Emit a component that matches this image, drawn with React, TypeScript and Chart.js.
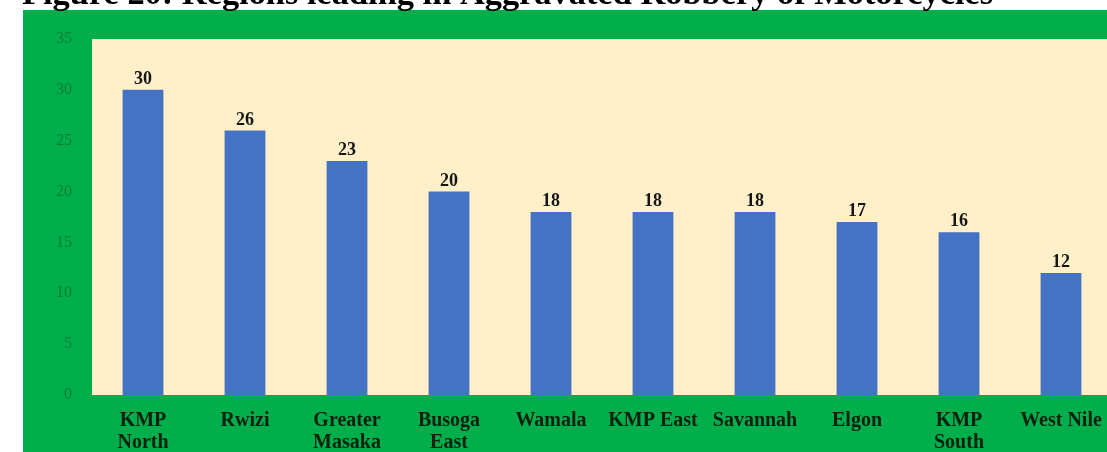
import React, { useEffect, useRef } from "react";
import { Chart, registerables } from "chart.js";

Chart.register(...registerables);

const titleText = "Figure 20: Regions leading in Aggravated Robbery of Motorcycles";
const categories: (string | string[])[] = [
  ["KMP", "North"],
  "Rwizi",
  ["Greater", "Masaka"],
  ["Busoga", "East"],
  "Wamala",
  "KMP East",
  "Savannah",
  "Elgon",
  ["KMP", "South"],
  "West Nile",
];
const values = [30, 26, 23, 20, 18, 18, 18, 17, 16, 12];
const yMin = 0;
const yMax = 35;
const yStep = 5;

const GREEN = "#00AE4C";
const CREAM = "#FFF0CA";
const BLUE = "#4472C4";

const backgroundPlugin = {
  id: "bgPlugin",
  beforeDraw(chart: any) {
    const { ctx, width, height, chartArea } = chart;
    ctx.save();
    ctx.fillStyle = "#ffffff";
    ctx.fillRect(0, 0, width, height);
    ctx.fillStyle = GREEN;
    ctx.fillRect(23, 10, width - 23, height - 10);
    ctx.fillStyle = CREAM;
    ctx.fillRect(chartArea.left, chartArea.top, chartArea.right - chartArea.left, chartArea.bottom - chartArea.top);
    ctx.fillStyle = "#000000";
    ctx.font = "bold 34.4px 'Liberation Serif', 'Times New Roman', serif";
    ctx.textBaseline = "alphabetic";
    ctx.textAlign = "left";
    ctx.fillText(titleText, 22, 4);
    ctx.restore();
  },
};

const labelPlugin = {
  id: "valueLabels",
  afterDatasetsDraw(chart: any) {
    const { ctx } = chart;
    const meta = chart.getDatasetMeta(0);
    ctx.save();
    ctx.fillStyle = "#151515";
    ctx.font = "bold 18px 'Liberation Serif', 'Times New Roman', serif";
    ctx.textAlign = "center";
    ctx.textBaseline = "alphabetic";
    meta.data.forEach((bar: any, i: number) => {
      ctx.fillText(String(chart.data.datasets[0].data[i]), bar.x, bar.y - 6);
    });
    ctx.restore();
  },
};

export default function App() {
  const ref = useRef<HTMLCanvasElement | null>(null);
  useEffect(() => {
    if (!ref.current) return;
    const chart = new Chart(ref.current, {
      type: "bar",
      data: {
        labels: categories,
        datasets: [
          {
            data: values,
            backgroundColor: BLUE,
            borderWidth: 0,
            barPercentage: 0.4,
            categoryPercentage: 1,
          },
        ],
      },
      options: {
        responsive: false,
        animation: false,
        layout: { padding: { top: 39, right: 8, left: 0, bottom: 0 } },
        plugins: {
          legend: { display: false },
          title: { display: false },
          tooltip: { enabled: false },
        },
        scales: {
          x: {
            grid: { display: false, drawTicks: false },
            border: { display: false },
            ticks: {
              color: "#0b200e",
              font: { family: "'Liberation Serif', 'Times New Roman', serif", size: 20, weight: "bold", lineHeight: 1.1 },
              padding: 15,
              maxRotation: 0,
              minRotation: 0,
              autoSkip: false,
            },
            afterFit(scale: any) {
              scale.height = 57;
            },
          },
          y: {
            min: yMin,
            max: yMax,
            grid: { display: false, drawTicks: false },
            border: { display: false },
            ticks: {
              stepSize: yStep,
              color: "rgba(0,70,25,0.45)",
              font: { family: "'Liberation Serif', 'Times New Roman', serif", size: 16 },
              padding: 20,
            },
            afterFit(scale: any) {
              scale.width = 92;
            },
          },
        },
      },
      plugins: [backgroundPlugin, labelPlugin],
    });
    return () => chart.destroy();
  }, []);
  return (
    <div style={{ position: "fixed", left: 0, top: 0, width: 1107, height: 452, overflow: "hidden", background: "#fff" }}>
      <canvas ref={ref} width={1120} height={452} style={{ display: "block" }} />
    </div>
  );
}
